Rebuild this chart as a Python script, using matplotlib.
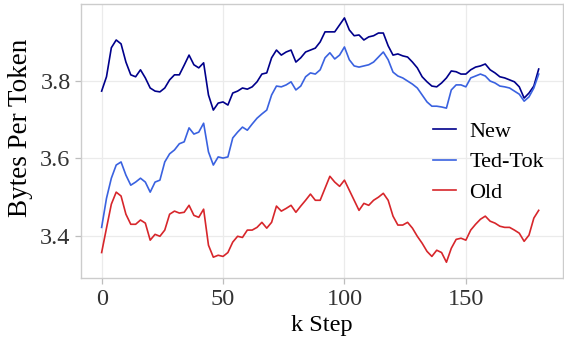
import numpy as np
import matplotlib.pyplot as plt

plt.rcParams["font.family"] = ["Liberation Serif", "DejaVu Serif"]

# k steps (every 2k) and bytes-per-token values
steps = np.arange(0, 181, 2)

new_bpt = [
    3.773, 3.810, 3.885, 3.905, 3.895, 3.848, 3.815, 3.810, 3.828, 3.807,
    3.781, 3.773, 3.771, 3.781, 3.802, 3.815, 3.815, 3.840, 3.866, 3.841,
    3.833, 3.846, 3.763, 3.724, 3.742, 3.745, 3.737, 3.768, 3.773, 3.781,
    3.778, 3.784, 3.797, 3.817, 3.820, 3.859, 3.879, 3.866, 3.874, 3.879,
    3.848, 3.859, 3.874, 3.879, 3.884, 3.900, 3.926, 3.926, 3.926, 3.944,
    3.962, 3.931, 3.916, 3.918, 3.905, 3.913, 3.916, 3.923, 3.923, 3.890,
    3.866, 3.869, 3.864, 3.861, 3.848, 3.833, 3.810, 3.797, 3.786, 3.784,
    3.794, 3.807, 3.825, 3.823, 3.817, 3.817, 3.828, 3.835, 3.838, 3.843,
    3.828, 3.820, 3.810, 3.807, 3.802, 3.797, 3.784, 3.755, 3.768, 3.786,
    3.830,
]

tedtok_bpt = [
    3.421, 3.496, 3.548, 3.582, 3.590, 3.556, 3.530, 3.538, 3.548, 3.538,
    3.512, 3.538, 3.543, 3.590, 3.611, 3.621, 3.637, 3.642, 3.678, 3.662,
    3.667, 3.690, 3.616, 3.582, 3.603, 3.600, 3.603, 3.652, 3.667, 3.680,
    3.672, 3.688, 3.703, 3.714, 3.724, 3.763, 3.786, 3.784, 3.789, 3.797,
    3.776, 3.786, 3.810, 3.820, 3.817, 3.828, 3.859, 3.872, 3.856, 3.866,
    3.887, 3.854, 3.838, 3.835, 3.838, 3.841, 3.848, 3.861, 3.874, 3.854,
    3.822, 3.812, 3.807, 3.799, 3.791, 3.781, 3.763, 3.745, 3.734, 3.734,
    3.732, 3.729, 3.776, 3.789, 3.789, 3.784, 3.807, 3.812, 3.817, 3.812,
    3.799, 3.794, 3.786, 3.784, 3.781, 3.773, 3.765, 3.747, 3.758, 3.781,
    3.817,
]

old_bpt = [
    3.356, 3.419, 3.481, 3.512, 3.502, 3.455, 3.429, 3.429, 3.440, 3.432,
    3.388, 3.403, 3.398, 3.414, 3.455, 3.463, 3.458, 3.460, 3.478, 3.452,
    3.447, 3.468, 3.375, 3.344, 3.349, 3.346, 3.356, 3.383, 3.398, 3.395,
    3.414, 3.414, 3.421, 3.434, 3.419, 3.434, 3.476, 3.463, 3.470, 3.478,
    3.460, 3.476, 3.491, 3.507, 3.491, 3.491, 3.522, 3.553, 3.538, 3.527,
    3.543, 3.517, 3.491, 3.465, 3.483, 3.478, 3.491, 3.499, 3.509, 3.491,
    3.450, 3.427, 3.427, 3.434, 3.419, 3.398, 3.380, 3.359, 3.346, 3.362,
    3.356, 3.331, 3.367, 3.390, 3.393, 3.388, 3.414, 3.429, 3.442, 3.450,
    3.437, 3.432, 3.424, 3.421, 3.421, 3.414, 3.406, 3.385, 3.401, 3.445,
    3.465,
]

series = [
    ("New", new_bpt, "#00008b"),
    ("Ted-Tok", tedtok_bpt, "#3a62e0"),
    ("Old", old_bpt, "#d7262b"),
]

fig = plt.figure(figsize=(5.64, 3.41), dpi=100)
ax = fig.add_axes([0.1436, 0.1839, 0.8546, 0.8044])

for name, vals, col in series:
    ax.plot(steps, vals, color=col, lw=1.2, label=name)

ax.set_xlim(-8.5, 190)
ax.set_ylim(3.2895, 3.998)
ax.set_xticks([0, 50, 100, 150])
ax.set_yticks([3.4, 3.6, 3.8])

ax.grid(True, color="#ebebeb", lw=0.9)
ax.set_axisbelow(True)
for sp in ax.spines.values():
    sp.set_color("#cccccc")
    sp.set_linewidth(1.0)
ax.tick_params(colors="#bdbdbd", labelcolor="#333333", labelsize=17.5,
               length=4, width=0.9)

ax.set_xlabel("k Step", fontsize=17.5, labelpad=4)
ax.set_ylabel("Bytes Per Token", fontsize=19.5)
ax.yaxis.set_label_coords(-0.1, 0.55)

ax.legend(loc="upper left", bbox_to_anchor=(0.688, 0.645), frameon=False,
          fontsize=16, handlelength=1.05, handletextpad=0.6, labelspacing=0.45)

fig.savefig("out.png", dpi=100)
